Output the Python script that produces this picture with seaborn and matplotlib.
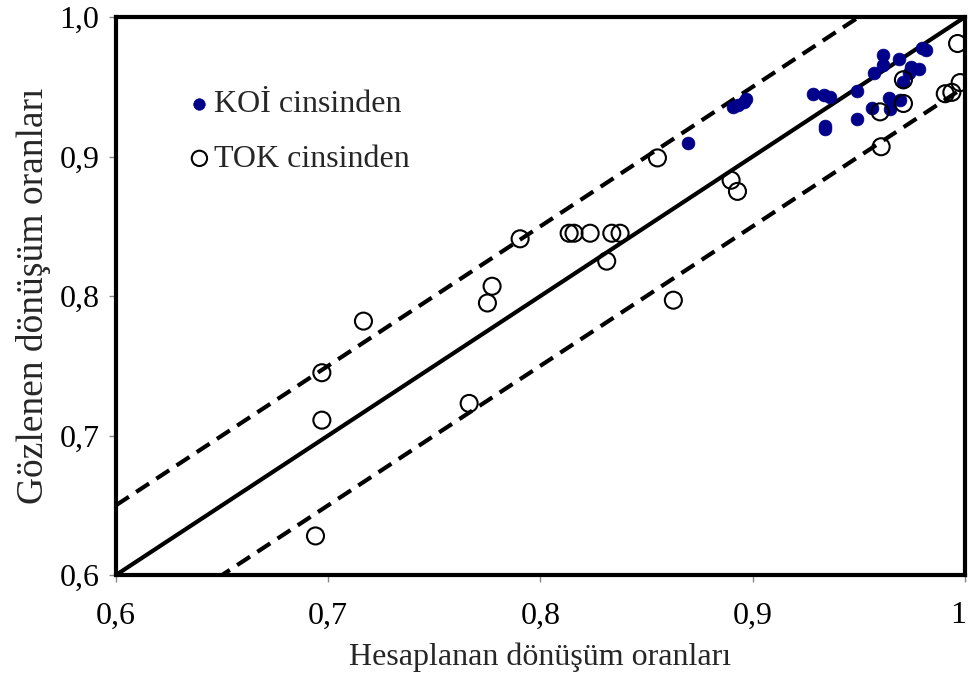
import matplotlib
matplotlib.use("Agg")
import matplotlib.pyplot as plt
import matplotlib.transforms as mtransforms
import seaborn as sns
import pandas as pd

# Calculated vs. observed conversion ratios
tok_calc = [0.694, 0.697, 0.697, 0.7166, 0.7664, 0.775, 0.7772, 0.7904, 0.8135,
            0.8158, 0.8234, 0.8312, 0.8336, 0.8375, 0.8551, 0.8626, 0.8898, 0.8928,
            0.960, 0.9605, 0.971, 0.971, 0.9907, 0.9938, 0.9965, 0.9977]
tok_obs = [0.628, 0.745, 0.711, 0.782, 0.723, 0.795, 0.807, 0.841, 0.845,
           0.845, 0.845, 0.825, 0.845, 0.845, 0.899, 0.797, 0.883, 0.875,
           0.932, 0.907, 0.955, 0.938, 0.945, 0.946, 0.981, 0.953]

koi_calc = [0.8694, 0.8908, 0.893, 0.896, 0.897, 0.9285, 0.9336, 0.9365, 0.9341,
            0.9341, 0.949, 0.949, 0.9561, 0.9569, 0.9613, 0.9616, 0.964, 0.9647,
            0.9691, 0.9695, 0.971, 0.9734, 0.9745, 0.9781, 0.9797, 0.9817]
koi_obs = [0.9095, 0.9355, 0.937, 0.939, 0.941, 0.9448, 0.9441, 0.9427, 0.9219,
           0.9197, 0.947, 0.927, 0.9345, 0.960, 0.9728, 0.9656, 0.9417, 0.9338,
           0.9697, 0.9405, 0.9536, 0.9596, 0.9644, 0.9625, 0.9775, 0.9763]

# Reference lines: perfect agreement and +/- band
ref_x = [0.6, 1.0]
band = 0.05

x_ticks = [0.6, 0.7, 0.8, 0.9, 1.0]
x_tick_labels = ["0,6", "0,7", "0,8", "0,9", "1"]
y_ticks = [0.6, 0.7, 0.8, 0.9, 1.0]
y_tick_labels = ["0,6", "0,7", "0,8", "0,9", "1,0"]

sns.set_style("white")
plt.rcParams["font.family"] = ["Liberation Serif", "DejaVu Serif"]

fig = plt.figure(figsize=(9.68, 6.8), dpi=100)
ax = fig.add_axes([0.1198, 0.1544, 0.8771, 0.8206])

koi_df = pd.DataFrame({"calc": koi_calc, "obs": koi_obs})
tok_df = pd.DataFrame({"calc": tok_calc, "obs": tok_obs})

line_kw = dict(color="black", lw=3.0, clip_on=True, zorder=2)
ax.plot(ref_x, ref_x, **line_kw)
ax.plot(ref_x, [v + band for v in ref_x], ls=(0, (3.7, 2.1)), **line_kw)
ax.plot(ref_x, [v - band for v in ref_x], ls=(0, (3.7, 2.1)), **line_kw)

sns.scatterplot(data=koi_df, x="calc", y="obs", ax=ax, color="#00008B",
                edgecolor="#00008B", s=85, linewidth=0.5, label="KOİ cinsinden",
                zorder=3)
sns.scatterplot(data=tok_df, x="calc", y="obs", ax=ax, facecolor="none",
                edgecolor="black", s=150, linewidth=1.5, label="TOK cinsinden",
                zorder=4)

ax.set_xlim(0.6, 1.0)
ax.set_ylim(0.6, 1.0)
ax.set_xticks(x_ticks)
ax.set_xticklabels(x_tick_labels)
ax.set_yticks(y_ticks)
ax.set_yticklabels(y_tick_labels)
ax.tick_params(axis="both", direction="out", length=5, width=1, color="#888888",
               labelsize=23, labelcolor="black", bottom=True, left=True)
ax.tick_params(axis="x", pad=14)
ax.tick_params(axis="y", pad=7)

# keep the last x label inside the canvas
last = ax.get_xticklabels()[-1]
last.set_transform(last.get_transform() +
                   mtransforms.ScaledTranslation(-5 / 72, 0, fig.dpi_scale_trans))

for sp in ax.spines.values():
    sp.set_linewidth(3)
    sp.set_color("black")

ax.set_xlabel("Hesaplanan dönüşüm oranları", fontsize=23, labelpad=9)
ax.set_ylabel("Gözlenen dönüşüm oranları", fontsize=27, labelpad=6)

leg = ax.legend(loc="upper left", bbox_to_anchor=(0.087, 0.869), frameon=False,
                fontsize=23, handlelength=0.6, handletextpad=0.15,
                labelspacing=0.78, markerscale=0.9, borderaxespad=0,
                borderpad=0)

fig.savefig("out.png", dpi=100)
